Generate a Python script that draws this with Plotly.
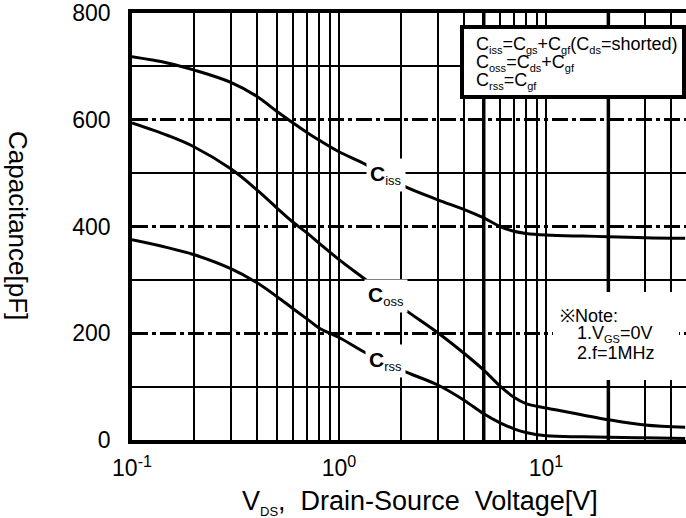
import plotly.graph_objects as go

# ---- data ----
vds = [0.1, 0.15, 0.2, 0.3, 0.4, 0.5, 0.6, 0.7, 0.8, 1.0, 1.35, 2.0, 3.0, 4.0, 5.0, 6.0, 7.0, 8.0, 10, 15, 20, 30, 47]
ciss = [718, 706, 693, 670, 644, 616, 594, 576, 562, 540, 516, 478, 450, 432, 416, 400, 391, 387, 384, 382, 381, 379, 378]
coss = [594, 570, 549, 508, 469, 435, 408, 388, 369, 338, 300, 249, 201, 163, 131, 101, 80, 68, 60, 47, 38, 28, 24]
crss = [375, 360, 347, 321, 295, 269, 246, 227, 210, 192, 163, 131, 103, 75, 49, 32, 21, 14, 8, 6, 5, 4, 3]

x_tickvals = [0.1, 1, 10]
x_ticktext = ["10<sup>-1</sup>", "10<sup>0</sup>", "10<sup>1</sup>"]
x_minor = [m * d for d in (0.1, 1, 10) for m in range(2, 10)]
x_heavy = [5, 20]
y_tickvals = [0, 200, 400, 600, 800]
y_minor = [100, 300, 500, 700]

FONT = "Arial, Liberation Sans, sans-serif"

fig = go.Figure()
for ys in (ciss, coss, crss):
    fig.add_trace(go.Scatter(x=vds, y=ys, mode="lines",
                             line=dict(color="black", width=3, shape="spline", smoothing=1.0),
                             showlegend=False, hoverinfo="skip"))

for xv in x_heavy:
    fig.add_shape(type="line", xref="x", yref="paper", x0=xv, x1=xv, y0=0, y1=1,
                  line=dict(color="black", width=3.5), layer="below")

fig.update_layout(
    width=686, height=518,
    margin=dict(l=132, r=0, t=13, b=78),
    paper_bgcolor="white", plot_bgcolor="white",
    font=dict(family=FONT, color="black"),
    xaxis=dict(type="log", range=[-1, 1.676], tickvals=x_tickvals, ticktext=x_ticktext,
               tickfont=dict(size=23), showgrid=True, gridcolor="black", gridwidth=1.8,
               showline=True, linecolor="black", linewidth=3.5, mirror=True,
               ticks="", ticklabelstandoff=5, zeroline=False,
               minor=dict(tickvals=x_minor, showgrid=True, gridcolor="black", gridwidth=1.8, ticks="")),
    yaxis=dict(range=[0, 800], tickvals=y_tickvals, tickfont=dict(size=23),
               showgrid=True, gridcolor="black", gridwidth=2.6, griddash="16px,4px,4px,4px",
               showline=True, linecolor="black", linewidth=3.5, ticks="", ticklabelstandoff=13,
               zeroline=False,
               minor=dict(tickvals=y_minor, showgrid=True, gridcolor="black", gridwidth=1.8,
                          griddash="solid", ticks="")),
)

def px2paper(px, py):
    return (px - 132) / 554.0, (440 - py) / 427.0

# legend formula box
x0, y0 = px2paper(462, 97)
x1, y1 = px2paper(684, 27)
fig.add_shape(type="rect", xref="paper", yref="paper", x0=x0, x1=x1, y0=y0, y1=y1,
              line=dict(color="black", width=4), fillcolor="white", layer="above")
SUB = '<sub><span style="font-size:11px">{}</span></sub>'
legend_lines = [
    "C" + SUB.format("iss") + "=C" + SUB.format("gs") + "+C" + SUB.format("gf") + "(C" + SUB.format("ds") + "=shorted)",
    "C" + SUB.format("oss") + "=C" + SUB.format("ds") + "+C" + SUB.format("gf"),
    "C" + SUB.format("rss") + "=C" + SUB.format("gf"),
]
for i, t in enumerate(legend_lines):
    ax, ay = px2paper(474, 45 + 18 * i)
    fig.add_annotation(xref="paper", yref="paper", x=ax, y=ay, text=t, showarrow=False,
                       xanchor="left", yanchor="middle", font=dict(size=18, family=FONT))

# note box
nx0, ny0 = px2paper(553, 380)
nx1, ny1 = px2paper(679, 292)
fig.add_shape(type="rect", xref="paper", yref="paper", x0=nx0, x1=nx1, y0=ny0, y1=ny1,
              line=dict(width=0), fillcolor="white", layer="above")
note_lines = [("※Note:", 558, 316),
              ("1.V" + '<sub><span style="font-size:11px">GS</span></sub>' + "=0V", 575, 334),
              ("2.f=1MHz", 575, 353)]
for t, px, py in note_lines:
    ax, ay = px2paper(px, py)
    fig.add_annotation(xref="paper", yref="paper", x=ax, y=ay, text=t, showarrow=False,
                       xanchor="left", yanchor="middle", font=dict(size=18, family=FONT))

# curve labels
curve_labels = [("iss", 497), ("oss", 270), ("rss", 148)]
for sub, yv in curve_labels:
    fig.add_annotation(x=0.2253, y=yv, xref="x", yref="y",
                       text="<b>C</b>" + '<sub><span style="font-size:13px">' + sub + "</span></sub>",
                       showarrow=False, bgcolor="white", borderpad=3,
                       font=dict(size=21, family=FONT))

# axis titles
tx, ty = px2paper(18, 225)
fig.add_annotation(xref="paper", yref="paper", x=tx, y=ty, text="Capacitance[pF]",
                   textangle=90, showarrow=False, xanchor="center", yanchor="middle",
                   font=dict(size=26, family=FONT))
tx, ty = px2paper(420, 502)
fig.add_annotation(xref="paper", yref="paper", x=tx, y=ty,
                   text="V" + '<sub><span style="font-size:13px">DS</span></sub>' + ",\u00a0\u00a0Drain-Source\u00a0\u00a0Voltage[V]",
                   showarrow=False, xanchor="center", yanchor="middle",
                   font=dict(size=27, family=FONT))

fig.write_html("out.html")
